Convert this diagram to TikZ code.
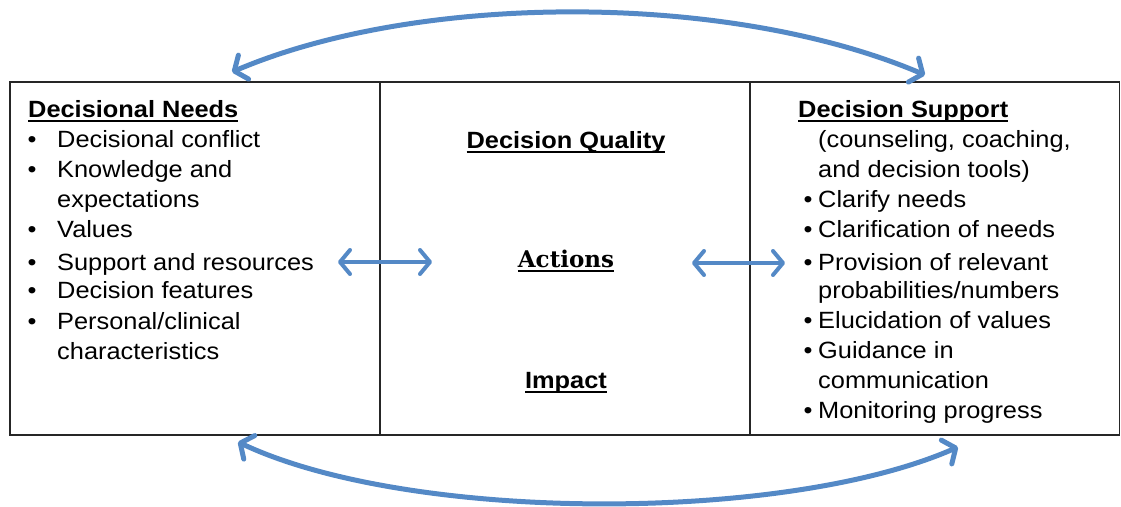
\documentclass[tikz,border=0pt]{standalone}
\usepackage{fontspec}
\setmainfont{Liberation Sans}[FakeStretch=1.08]
\newfontfamily\serifhead{DejaVu Serif}
\usetikzlibrary{arrows.meta}

\definecolor{arcblue}{RGB}{84,137,198}

% underlined heading with a heavier rule
\newcommand{\hdr}[1]{\setbox0\hbox{#1}\rlap{\rule[-4.5pt]{\wd0}{1.6pt}}\box0}
\newcommand{\fs}{\fontsize{23.5}{28}\selectfont}

\begin{document}
\begin{tikzpicture}[x=1pt, y=-1pt,
    cell/.style={draw=black!85, line width=1.5pt, minimum width=370pt,
                 minimum height=353pt, inner sep=0pt, outer sep=0pt},
    txt/.style={inner sep=0pt, anchor=base west, font=\fs},
    dbl/.style={arcblue, line width=4pt, {Straight Barb[round,length=10pt,width=24pt]}-{Straight Barb[round,length=10pt,width=24pt]}},
    arc/.style={arcblue, line width=5pt, {Straight Barb[round,length=10pt,width=26pt]}-{Straight Barb[round,length=10pt,width=26pt]}}]
    \useasboundingbox (0,0) rectangle (1121,506);

    %% three cells of the table
    \node[cell] (C1) at (195,  258.5) {};
    \node[cell] (C2) at (565,  258.5) {};
    \node[cell] (C3) at (934.5,258.5) {};

    %% left column
    \node[txt] (DN) at (28,117) {\hdr{\bfseries Decisional Needs}};
    \foreach \y/\t [count=\i] in {147.7/Decisional conflict, 177/Knowledge and,
        207/expectations, 237/Values, 270/Support and resources,
        298.5/Decision features, 329/{Personal/clinical}, 359/characteristics}
        \node[txt] (L\i) at (57,\y) {\t};
    \foreach \y [count=\i] in {147.7,177,237,270,298.5,329}
        \node[txt] (LB\i) at (27.5,\y) {\textbullet};

    %% middle column
    \node[txt, anchor=base] (DQ) at (566,148) {\hdr{\bfseries Decision Quality}};
    \node[txt, anchor=base] (AC) at (566,267) {\hdr{\fontsize{23}{27}\serifhead\bfseries Actions}};
    \node[txt, anchor=base] (IM) at (566,388) {\hdr{\bfseries Impact}};

    %% right column
    \node[txt] (DS) at (798,117) {\hdr{\bfseries Decision Support}};
    \foreach \y/\t [count=\i] in {147/{(counseling, coaching,}, 177/and decision tools),
        207/Clarify needs, 237/Clarification of needs, 270/Provision of relevant,
        298.5/{probabilities/numbers}, 328.5/Elucidation of values,
        358.5/Guidance in, 388.5/communication, 418.5/Monitoring progress}
        \node[txt] (R\i) at (818,\y) {\t};
    \foreach \y [count=\i] in {207,237,270,328.5,358.5,418.5}
        \node[txt] (RB\i) at (803.5,\y) {\textbullet};

    %% arrow end points
    \coordinate (AL1) at (338,262);
    \coordinate (AL2) at (432,262);
    \coordinate (AR1) at (692,263);
    \coordinate (AR2) at (785,263);

    \coordinate (T1) at (232,72);
    \coordinate (T2) at (925,75);
    \coordinate (B1) at (238,442);
    \coordinate (B2) at (958,447);

    \path[dbl] (AL1) edge (AL2);
    \path[dbl] (AR1) edge (AR2);

    \draw[arc] (T1) .. controls (420,-8) and (730,-8) .. (T2);
    \draw[arc] (B1) .. controls (410,523) and (785,523) .. (B2);

\end{tikzpicture}
\end{document}
